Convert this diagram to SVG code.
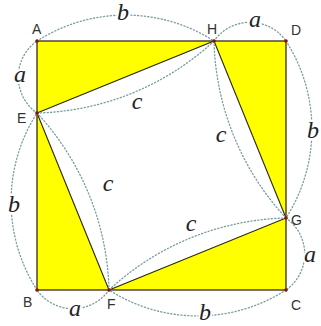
<svg xmlns="http://www.w3.org/2000/svg" width="321" height="326" viewBox="0 0 321 326">
<style>
.tri{fill:#ffff00;stroke:none}
.sq{fill:none;stroke:#3a2a1a;stroke-width:1.3}
.in{fill:none;stroke:#2a2a10;stroke-width:1.1}
.arc{fill:none;stroke:#7a9e9e;stroke-width:1.3;stroke-dasharray:1.2 2.2;stroke-linecap:round}
.pt{fill:#8a1010}
.lbl{font-family:"Liberation Sans",Arial,sans-serif;font-size:14px;fill:#333}
.var{font-family:"Liberation Serif","Times New Roman",serif;font-style:italic;font-size:24px;fill:#222;text-anchor:middle;stroke:#fff;stroke-width:4;paint-order:stroke;stroke-linejoin:round}
</style>
<rect width="321" height="326" fill="#fff"/>
<g id="shapes">
<polygon class="tri" points="37,41 214,41 37,113"/>
<polygon class="tri" points="214,41 286,41 286,218"/>
<polygon class="tri" points="286,218 286,290 109,290"/>
<polygon class="tri" points="109,290 37,290 37,113"/>
<rect class="sq" x="37" y="41" width="249" height="249"/>
<polygon class="in" points="37,113 214,41 286,218 109,290"/>
</g>
<g id="connectors">
<path class="arc" d="M37,41 A164,164 0 0 1 214,41"/>
<path class="arc" d="M214,41 A44,44 0 0 1 286,41"/>
<path class="arc" d="M286,41 A164,164 0 0 1 286,218"/>
<path class="arc" d="M286,218 A44,44 0 0 1 286,290"/>
<path class="arc" d="M286,290 A164,164 0 0 1 109,290"/>
<path class="arc" d="M109,290 A44,44 0 0 1 37,290"/>
<path class="arc" d="M37,290 A164,164 0 0 1 37,113"/>
<path class="arc" d="M37,113 A44,44 0 0 1 37,41"/>
<path class="arc" d="M37,113 A270,270 0 0 0 214,41"/>
<path class="arc" d="M214,41 A270,270 0 0 0 286,218"/>
<path class="arc" d="M286,218 A270,270 0 0 0 109,290"/>
<path class="arc" d="M109,290 A270,270 0 0 0 37,113"/>
</g>
<g id="arc-labels">
<text class="var" x="123" y="20">b</text>
<text class="var" x="255" y="27">a</text>
<text class="var" x="313" y="138">b</text>
<text class="var" x="310" y="262">a</text>
<text class="var" x="205" y="320">b</text>
<text class="var" x="75" y="316">a</text>
<text class="var" x="14" y="212">b</text>
<text class="var" x="20" y="82">a</text>
<text class="var" x="137" y="109">c</text>
<text class="var" x="221" y="142">c</text>
<text class="var" x="191" y="231">c</text>
<text class="var" x="108" y="191">c</text>
</g>
<g id="A"><circle class="pt" cx="37" cy="41" r="1.8"/><text class="lbl" x="32" y="34">A</text></g>
<g id="H"><circle class="pt" cx="214" cy="41" r="1.8"/><text class="lbl" x="207" y="34">H</text></g>
<g id="D"><circle class="pt" cx="286" cy="41" r="1.8"/><text class="lbl" x="291" y="35">D</text></g>
<g id="E"><circle class="pt" cx="37" cy="113" r="1.8"/><text class="lbl" x="17" y="123">E</text></g>
<g id="G"><circle class="pt" cx="286" cy="218" r="1.8"/><text class="lbl" x="291" y="225">G</text></g>
<g id="B"><circle class="pt" cx="37" cy="290" r="1.8"/><text class="lbl" x="23" y="307">B</text></g>
<g id="F"><circle class="pt" cx="109" cy="290" r="1.8"/><text class="lbl" x="107" y="309">F</text></g>
<g id="C"><circle class="pt" cx="286" cy="290" r="1.8"/><text class="lbl" x="291" y="310">C</text></g>
</svg>
